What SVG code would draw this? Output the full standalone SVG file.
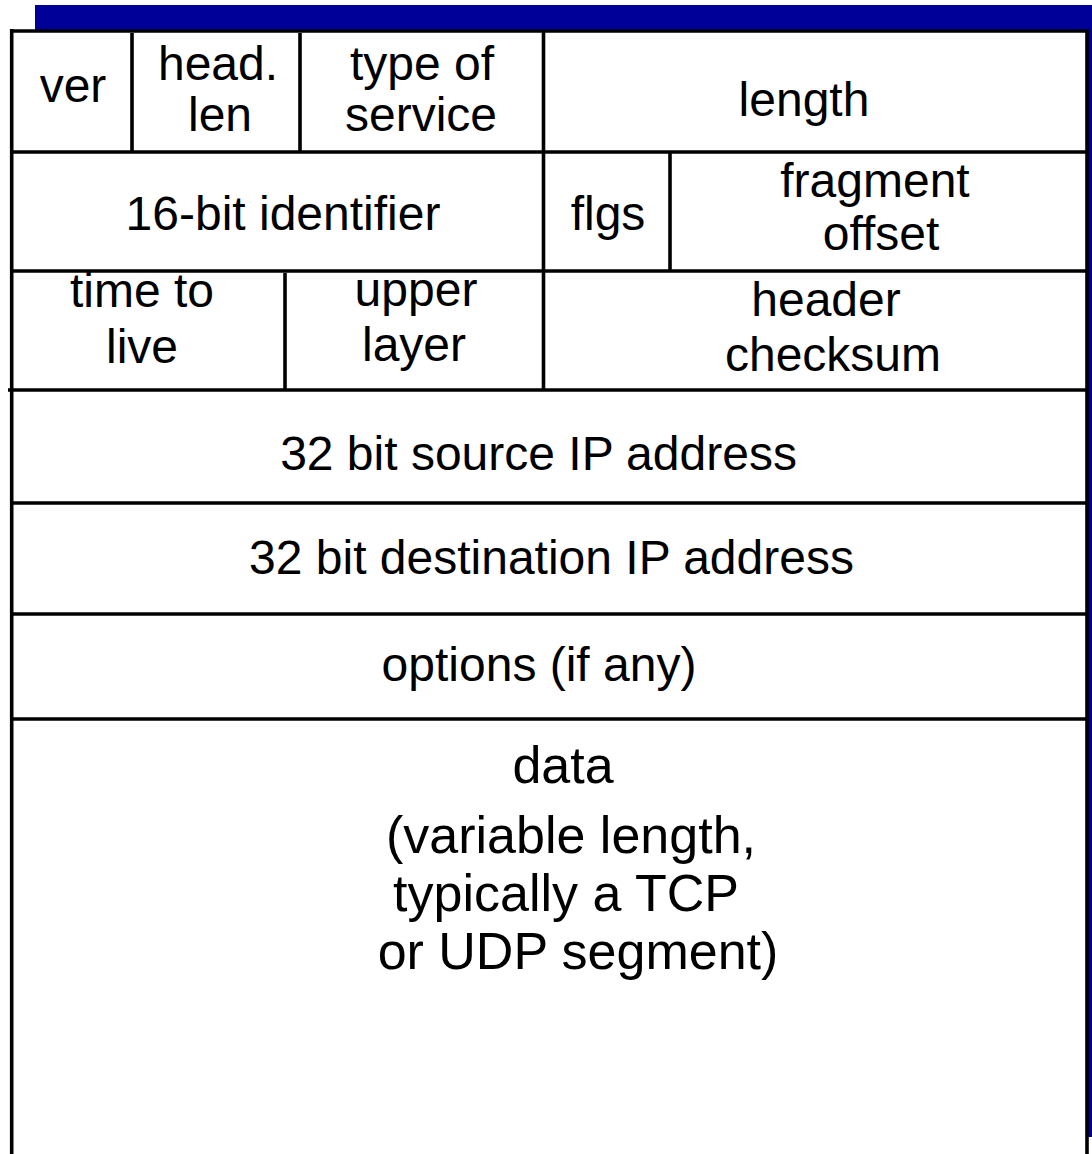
<svg xmlns="http://www.w3.org/2000/svg" width="1092" height="1154" viewBox="0 0 1092 1154">
<style>
  .ln { stroke: #000; stroke-width: 3.6; fill: none; }
  .t { font-family: "Liberation Sans", Arial, sans-serif; font-size: 48px; fill: #000; text-anchor: middle; }
  .d { font-family: "Liberation Sans", Arial, sans-serif; font-size: 52px; fill: #000; text-anchor: middle; }
  .blue { fill: #000099; }
</style>
<rect width="1092" height="1154" fill="#fff"/>
<g id="frame">
  <rect class="blue" x="35" y="5" width="1057" height="25"/>
  <rect class="blue" x="1088" y="5" width="4" height="1132"/>
</g>
<g id="grid">
  <line class="ln" x1="10" y1="31" x2="1088" y2="31"/>
  <line class="ln" x1="11.7" y1="29" x2="11.7" y2="1154"/>
  <line class="ln" x1="1087" y1="29" x2="1087" y2="1154"/>
  <line class="ln" x1="12" y1="152" x2="1087" y2="152"/>
  <line class="ln" x1="12" y1="271" x2="1087" y2="271"/>
  <line class="ln" x1="8" y1="390" x2="1087" y2="390"/>
  <line class="ln" x1="12" y1="503" x2="1087" y2="503"/>
  <line class="ln" x1="12" y1="614" x2="1087" y2="614"/>
  <line class="ln" x1="12" y1="719" x2="1087" y2="719"/>
  <line class="ln" x1="132" y1="33" x2="132" y2="152"/>
  <line class="ln" x1="300" y1="33" x2="300" y2="152"/>
  <line class="ln" x1="543.5" y1="31" x2="543.5" y2="390"/>
  <line class="ln" x1="670" y1="152" x2="670" y2="271"/>
  <line class="ln" x1="285" y1="273" x2="285" y2="390"/>
</g>
<g id="ver"><text class="t" x="73" y="102">ver</text></g>
<g id="head-len"><text class="t" x="218" y="80">head.</text><text class="t" x="220" y="131">len</text></g>
<g id="tos"><text class="t" x="422" y="80">type of</text><text class="t" x="421" y="131">service</text></g>
<g id="length"><text class="t" x="804" y="116">length</text></g>
<g id="identifier"><text class="t" x="283" y="230">16-bit identifier</text></g>
<g id="flgs"><text class="t" x="608" y="230">flgs</text></g>
<g id="fragoff"><text class="t" x="875" y="197">fragment</text><text class="t" x="881" y="250">offset</text></g>
<g id="ttl"><text class="t" x="142" y="307">time to</text><text class="t" x="142" y="363">live</text></g>
<g id="upper"><text class="t" x="416" y="306">upper</text><text class="t" x="414" y="361">layer</text></g>
<g id="checksum"><text class="t" x="826" y="316">header</text><text class="t" x="833" y="371">checksum</text></g>
<g id="src"><text class="t" x="538.5" y="470">32 bit source IP address</text></g>
<g id="dst"><text class="t" x="551.5" y="574">32 bit destination IP address</text></g>
<g id="options"><text class="t" x="539" y="681">options (if any)</text></g>
<g id="data">
  <text class="d" x="563" y="783">data</text>
  <text class="d" x="571" y="853">(variable length,</text>
  <text class="d" x="566" y="911">typically a TCP</text>
  <text class="d" x="578" y="969">or UDP segment)</text>
</g>
</svg>
